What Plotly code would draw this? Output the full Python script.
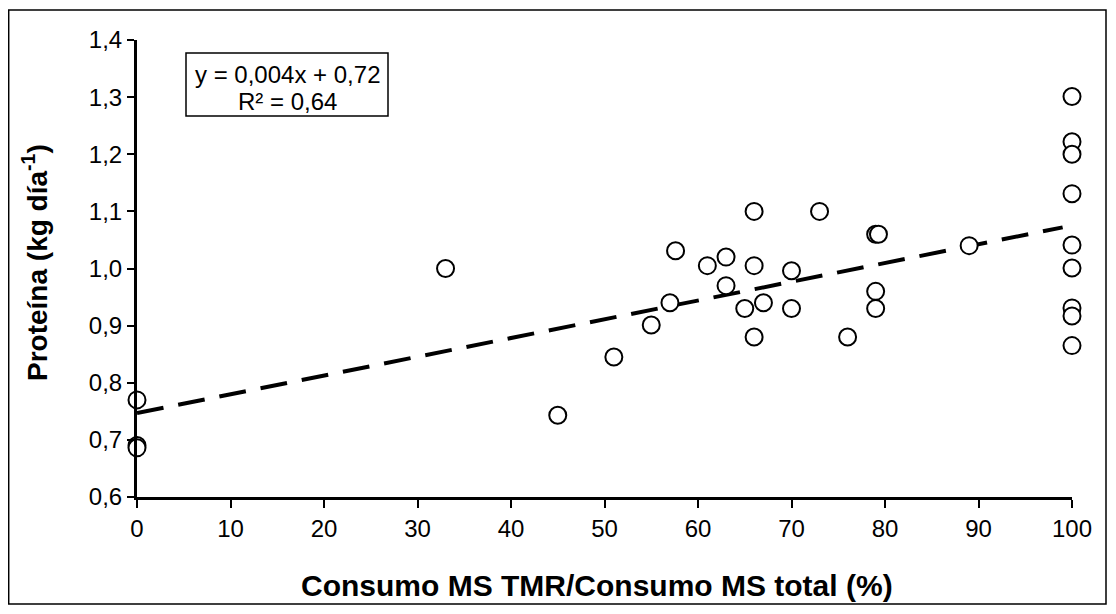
import plotly.graph_objects as go

# Data
tmr_pct = [0, 0, 0, 33, 45, 51, 55, 57, 57.6, 61, 63, 63, 65, 66, 66, 66,
           67, 70, 70, 73, 76, 79, 79.3, 79, 79, 89,
           100, 100, 100, 100, 100, 100, 100, 100, 100]
proteina = [0.770, 0.690, 0.686, 1.000, 0.743, 0.845, 0.901, 0.940, 1.031, 1.005, 1.020, 0.970, 0.930,
            1.100, 1.005, 0.880, 0.940, 0.996, 0.930, 1.100, 0.880, 1.060, 1.060, 0.960, 0.930, 1.040,
            1.301, 1.222, 1.200, 1.131, 1.041, 1.001, 0.931, 0.917, 0.865]

trend_x = [0, 99]
trend_y = [0.747, 1.072]

x_ticks = list(range(0, 101, 10))
y_ticks = [0.6, 0.7, 0.8, 0.9, 1.0, 1.1, 1.2, 1.3, 1.4]

FONT = "Liberation Sans, Arial, sans-serif"

# figure geometry (page has an 8px body margin)
W, H = 1108, 606
L, R, T, B = 129, 44, 32, 117
PW, PH = W - L - R, H - T - B


def px(fx):
    return (fx - 8 - L) / PW


def py(fy):
    return (T + PH - (fy - 8)) / PH


fig = go.Figure()
fig.add_trace(go.Scatter(
    x=trend_x, y=trend_y, mode="lines",
    line=dict(color="black", width=4, dash="27px,15px"),
    showlegend=False, hoverinfo="skip"))
fig.add_trace(go.Scatter(
    x=tmr_pct, y=proteina, mode="markers",
    marker=dict(symbol="circle", size=17, color="white",
                line=dict(color="black", width=2)),
    cliponaxis=False, showlegend=False))

fig.update_layout(
    width=W, height=H,
    margin=dict(l=L, r=R, t=T, b=B),
    paper_bgcolor="white", plot_bgcolor="white",
    separators=", ",
    font=dict(family=FONT, color="black", size=24),
    xaxis=dict(range=[0, 100], tickvals=x_ticks, showgrid=False, zeroline=False,
               showline=True, linecolor="black", linewidth=3,
               ticks="outside", ticklen=8, tickwidth=2, tickcolor="black",
               tickfont=dict(size=24)),
    yaxis=dict(range=[0.6, 1.4], tickvals=y_ticks, tickformat=".1f",
               ticksuffix="\u00a0",
               showgrid=False, zeroline=False,
               showline=True, linecolor="black", linewidth=3,
               ticks="outside", ticklen=7, tickwidth=2, tickcolor="black",
               tickfont=dict(size=24)),
    annotations=[
        dict(xref="paper", yref="paper", x=px(287), y=py(75),
             xanchor="center", yanchor="middle", showarrow=False,
             text="y = 0,004x + 0,72", font=dict(size=24, family=FONT)),
        dict(xref="paper", yref="paper", x=px(287), y=py(102),
             xanchor="center", yanchor="middle", showarrow=False,
             text="R² = 0,64", font=dict(size=24, family=FONT)),
        dict(xref="paper", yref="paper", x=px(597), y=py(585),
             xanchor="center", yanchor="middle", showarrow=False,
             text="<b>Consumo MS TMR/Consumo MS total (%)</b>",
             font=dict(size=30, family=FONT)),
        dict(xref="paper", yref="paper", x=px(35), y=py(263),
             xanchor="center", yanchor="middle", showarrow=False, textangle=-90,
             text="<b>Proteína (kg día<sup>-1</sup>)</b>",
             font=dict(size=28, family=FONT)),
    ],
    shapes=[
        dict(type="rect", xref="paper", yref="paper",
             x0=px(186), x1=px(388), y0=py(116), y1=py(53),
             line=dict(color="black", width=1.5), fillcolor="rgba(0,0,0,0)"),
        dict(type="rect", xref="paper", yref="paper",
             x0=px(8.7), x1=px(1106), y0=py(604), y1=py(10),
             line=dict(color="black", width=1.5), layer="below"),
    ],
)

fig.write_html("out.html")
